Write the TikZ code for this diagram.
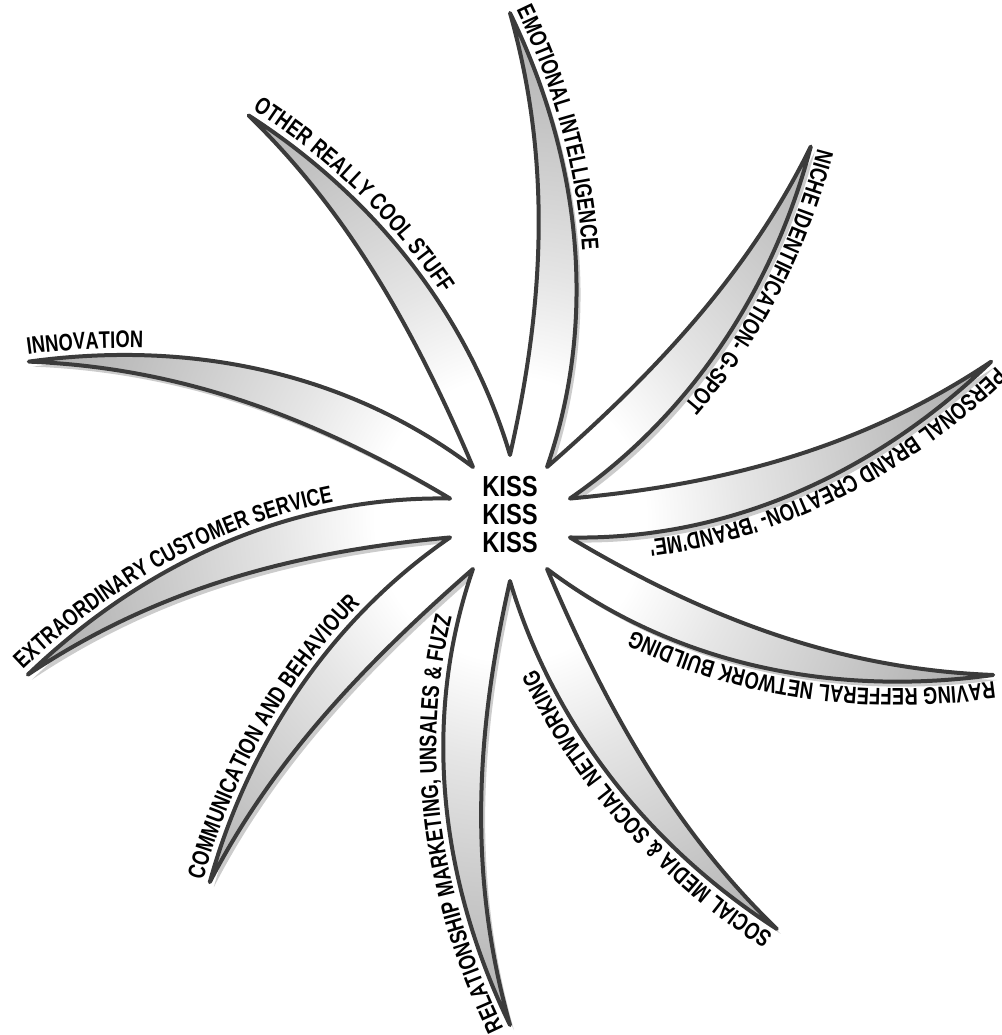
\documentclass[tikz,border=0pt]{standalone}
\usepackage{fontspec}
\usepackage{tikz}
\usetikzlibrary{decorations.text}
\newfontfamily\armfont{Liberation Sans}[FakeStretch=0.76]
\newfontfamily\kissfont{Liberation Sans}[FakeStretch=0.82]
\newcommand\armtext{\armfont\bfseries\fontsize{24}{24}\selectfont}
\pgfdeclareradialshading{starshade}{\pgfpointorigin}{color(0bp)=(white); color(7bp)=(white); color(12bp)=(black!10); color(22bp)=(black!27); color(32bp)=(black!40); color(42bp)=(black!52); color(50bp)=(black!60)}

\begin{document}
\begin{tikzpicture}[x=1pt, y=1pt,
  starline/.style={draw=black!77, line width=4pt, line join=round, shading=starshade},
  starshadow/.style={fill=black!20},
  armlabel/.style={decorate, decoration={text along path, raise=7pt, text={|\armtext|#1}}},
  hubtext/.style={align=center, inner sep=0pt, font=\kissfont\bfseries\fontsize{29}{28}\selectfont}
]
\useasboundingbox (-510,-517) rectangle (491,518);

% arms: base angle / tip radius / tip turn
\foreach \a/\R/\d [count=\i] in {0/506/18, 36/478/15, 72/505/18, 108/480/15, 144/506/18,
    180/507/18, 216/472/14.5, 252/507/18, 288/490/15, 324/508/18}{
  \pgfmathsetmacro\tu{\R*cos(\d)}
  \pgfmathsetmacro\tv{\R*sin(\d)}
  \coordinate (v\i)  at (\a-18:63);
  \coordinate (w\i)  at (\a+18:63);
  \coordinate (t\i)  at ([rotate=\a]\tu,\tv);
  \coordinate (p\i)  at ([rotate=\a]{0.45*\tu},{0.03*\tv-27});
  \coordinate (pp\i) at ([rotate=\a]{0.755*\tu},{0.365*\tv-14});
  \coordinate (qq\i) at ([rotate=\a]{0.735*\tu},{0.365*\tv+14});
  \coordinate (q\i)  at ([rotate=\a]{0.45*\tu},{0.03*\tv+29});
}

\begin{scope}[transform canvas={xshift=4pt, yshift=-5pt}]
  \fill[starshadow] (v1) \foreach \i in {1,...,10}{
    .. controls (p\i) and (pp\i) .. (t\i) .. controls (qq\i) and (q\i) .. (w\i)} -- cycle;
\end{scope}
\shadedraw[starline] (v1) \foreach \i in {1,...,10}{
    .. controls (p\i) and (pp\i) .. (t\i) .. controls (qq\i) and (q\i) .. (w\i)} -- cycle;

\node[hubtext] (hub) at (0,3) {KISS\\KISS\\KISS};

% labels run from each tip back along the outer edge
\path[armlabel={PERSONAL BRAND CREATION- 'BRAND'ME'}] (t1) .. controls (pp1) and (p1) .. (v1);
\path[armlabel={NICHE IDENTIFICATION- G-SPOT}] (t2) .. controls (pp2) and (p2) .. (v2);
\path[armlabel={EMOTIONAL INTELLIGENCE}] (t3) .. controls (pp3) and (p3) .. (v3);
\path[armlabel={OTHER REALLY COOL STUFF}] (t4) .. controls (pp4) and (p4) .. (v4);
\path[armlabel={INNOVATION}] (t5) .. controls (pp5) and (p5) .. (v5);
\path[armlabel={EXTRAORDINARY CUSTOMER SERVICE}] (t6) .. controls (pp6) and (p6) .. (v6);
\path[armlabel={COMMUNICATION AND BEHAVIOUR}] (t7) .. controls (pp7) and (p7) .. (v7);
\path[armlabel={RELATIONSHIP MARKETING, UNSALES {\&} FUZZ}] (t8) .. controls (pp8) and (p8) .. (v8);
\path[armlabel={SOCIAL MEDIA {\&} SOCIAL NETWORKING}] (t9) .. controls (pp9) and (p9) .. (v9);
\path[armlabel={RAVING REFFERAL NETWORK BUILDING}] (t10) .. controls (pp10) and (p10) .. (v10);
\end{tikzpicture}
\end{document}
